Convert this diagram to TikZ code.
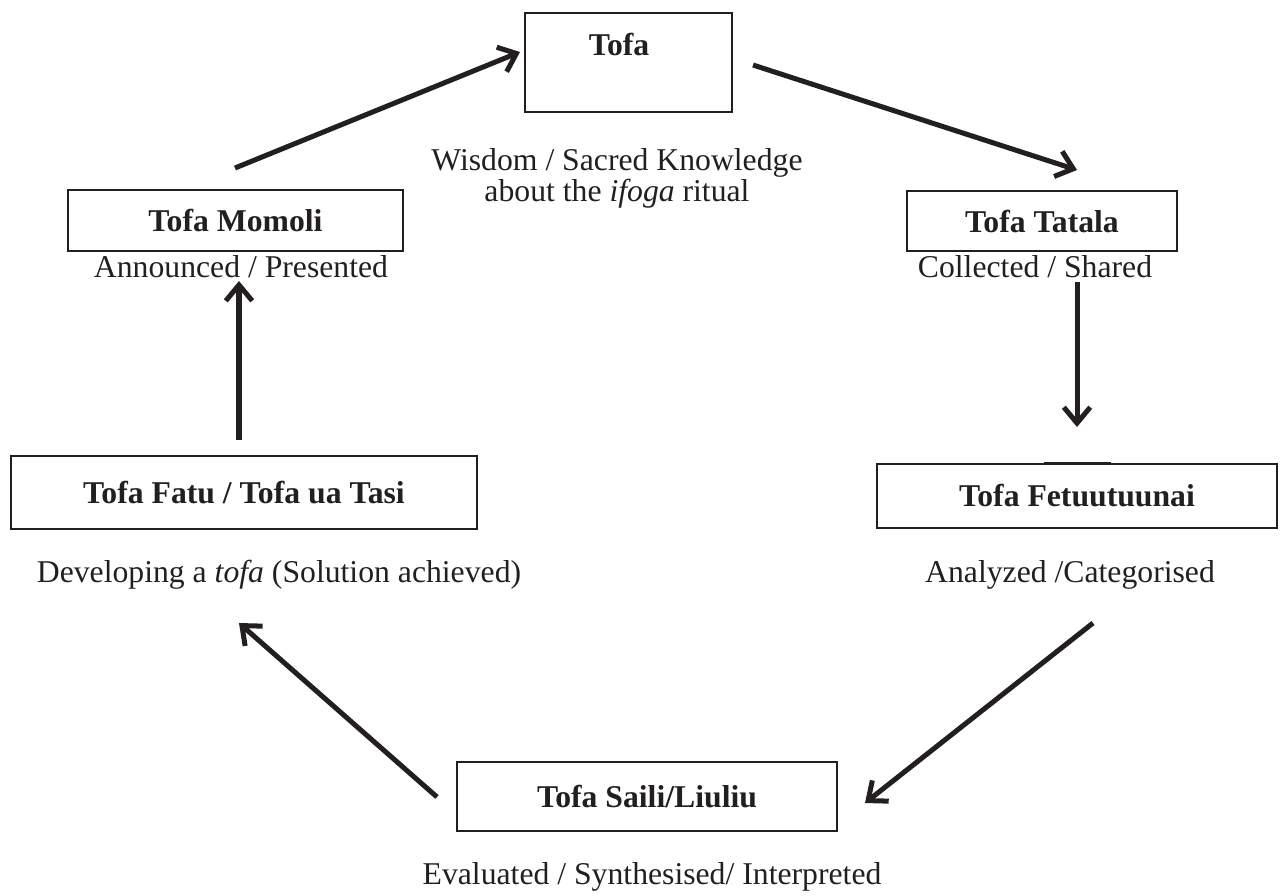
\documentclass[tikz,border=0pt]{standalone}
\usepackage{fontspec}
\setmainfont{Liberation Serif}
\usetikzlibrary{arrows.meta,fit}
\definecolor{ink}{RGB}{35,31,32}
\begin{document}
\begin{tikzpicture}[x=0.3785pt,y=-0.3785pt,
  every node/.style={font=\fontsize{12}{14}\selectfont},
  box/.style={draw=ink, line width=0.75pt, inner sep=0pt, text=ink, font=\fontsize{12}{14}\selectfont\bfseries},
  title/.style={text=ink, font=\fontsize{12}{14}\selectfont\bfseries, inner sep=0pt},
  lab/.style={text=ink, inner sep=0pt, align=center},
  flow/.style={draw=ink, line width=1.9pt, -{Straight Barb[length=6pt,width=10pt]}}]
\useasboundingbox (0,0) rectangle (1283,895);
% boxes
\node[box, fit={(525,13) (732,112)}] (tofa) {};
\node[title] (tofatitle) at (619,44) {Tofa};
\node[box, minimum width=335*0.3785pt, minimum height=61*0.3785pt] (momoli) at (235.5,220.5) {Tofa Momoli};
\node[box, minimum width=270*0.3785pt, minimum height=60*0.3785pt] (tatala) at (1042,221) {Tofa Tatala};
\node[box, minimum width=400*0.3785pt, minimum height=64*0.3785pt] (fet) at (1077,496) {Tofa Fetuutuunai};
\node[box, minimum width=466*0.3785pt, minimum height=73*0.3785pt] (fatu) at (244,492.5) {Tofa Fatu / Tofa ua Tasi};
\node[box, minimum width=380*0.3785pt, minimum height=69*0.3785pt] (saili) at (647,796.5) {Tofa Saili/Liuliu};
% small mark above Fetuutuunai box
\draw[ink, line width=1.1pt] (1044,463) -- (1111,463);
% labels
\node[lab] (wisdom) at (617,163) {Wisdom / Sacred Knowledge};
\node[lab] (ifoga) at (617,194) {about the \textit{ifoga} ritual};
\node[lab] (announced) at (241,267) {Announced / Presented};
\node[lab] (collected) at (1035,267) {Collected / Shared};
\node[lab] (developing) at (279,575) {Developing a \textit{tofa} (Solution achieved)};
\node[lab] (analyzed) at (1070,575) {Analyzed /Categorised};
\node[lab] (evaluated) at (652,877) {Evaluated / Synthesised/ Interpreted};
% arrow ends
\coordinate (a1s) at (235,168);  \coordinate (a1e) at (520,52);
\coordinate (a2s) at (753,65);   \coordinate (a2e) at (1077,170);
\coordinate (a3s) at (1077,282); \coordinate (a3e) at (1077,427);
\coordinate (a4s) at (1093,623); \coordinate (a4e) at (865,803);
\coordinate (a5s) at (437,797);  \coordinate (a5e) at (239,623);
\coordinate (a6s) at (239,440);  \coordinate (a6e) at (239,281);
\draw[flow] (a1s) -- (a1e);
\draw[flow] (a2s) -- (a2e);
\draw[flow] (a3s) -- (a3e);
\draw[flow] (a4s) -- (a4e);
\draw[flow] (a5s) -- (a5e);
\draw[flow] (a6s) -- (a6e);
\end{tikzpicture}
\end{document}
